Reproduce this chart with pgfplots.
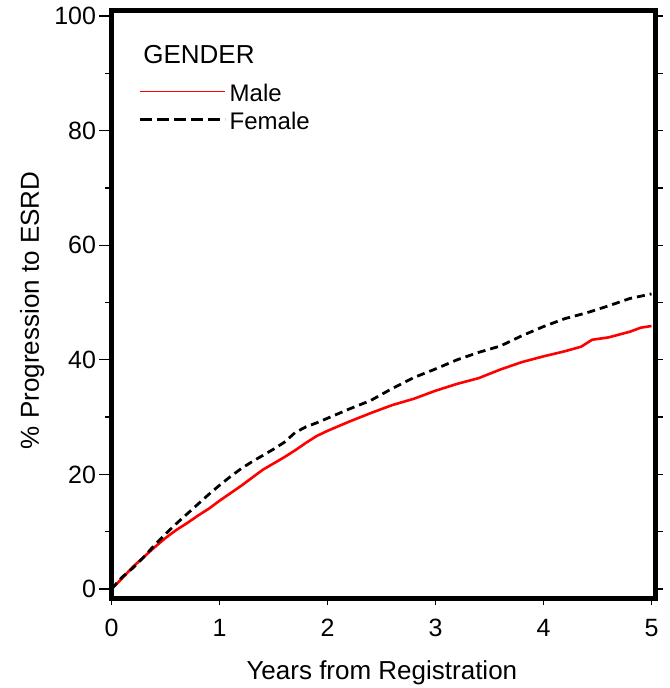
\documentclass[border=0pt]{standalone}
\usepackage{fontspec}
\setmainfont{Liberation Sans}
\usepackage{pgfplots}
\pgfplotsset{compat=1.18}
\pgfplotstableread{
x y
0 0
0.1 1.9
0.2 3.9
0.3 5.6
0.4 7.3
0.5 8.9
0.6 10.3
0.7 11.5
0.8 12.8
0.9 14.0
1.0 15.4
1.1 16.7
1.2 18.0
1.3 19.4
1.4 20.8
1.5 21.9
1.6 23.0
1.7 24.2
1.8 25.5
1.9 26.7
2.0 27.6
2.2 29.2
2.4 30.7
2.6 32.1
2.8 33.2
3.0 34.6
3.2 35.8
3.4 36.8
3.6 38.3
3.8 39.6
4.0 40.6
4.2 41.5
4.35 42.3
4.45 43.5
4.6 43.9
4.8 44.9
4.9 45.6
5.0 45.9
}\male
\pgfplotstableread{
x y
0 0
0.1 2.1
0.2 3.7
0.3 5.6
0.4 7.7
0.5 9.6
0.6 11.4
0.7 13.1
0.8 14.8
0.9 16.5
1.0 18.1
1.1 19.6
1.2 21.0
1.3 22.2
1.4 23.3
1.5 24.4
1.6 25.6
1.7 27.3
1.8 28.3
1.9 29.0
2.0 29.8
2.2 31.4
2.4 32.9
2.6 35.0
2.8 36.9
3.0 38.4
3.2 40.0
3.4 41.3
3.6 42.4
3.8 44.2
4.0 45.8
4.2 47.2
4.4 48.2
4.6 49.4
4.8 50.7
5.0 51.5
}\female
\begin{document}
\begin{tikzpicture}
\pgfplotsset{
  base/.style={scale only axis, width=544pt, height=587pt,
    xmin=0, xmax=5.037, ymin=-1.57, ymax=100.87,
    /pgf/number format/assume math mode=true,
    tick align=outside, tick style={line width=1.3pt,black},
    at={(0,0)}, anchor=south west},
}
\begin{axis}[base, name=main,
  xtick={0,1,2,3,4,5}, ytick=\empty, xtick pos=bottom,
  major tick length=7pt,
  xticklabel style={font=\fontsize{25}{30}\selectfont, yshift=-11pt},
  xlabel={Years from Registration},
  every axis x label/.style={at={(axis description cs:0.497,-0.138)},anchor=base,font=\fontsize{26}{31}\selectfont},
  legend cell align=left,
  legend style={at={(axis description cs:0.05,0.879)}, anchor=north west, draw=none, fill=none,
    inner sep=0pt, row sep=3pt, column sep=2pt, font=\fontsize{24}{29}\selectfont,
    nodes={text height=18pt, text depth=5pt, inner sep=1pt}},
  clip=false,
]
\addplot[red, line width=2.6pt, line join=round, line cap=butt,
  legend image code/.code={\draw[red,line width=1.5pt,line cap=butt] (0pt,3pt) -- (85pt,3pt);}] table {\male};
\addlegendentry{Male}
\addplot[black, line width=2.8pt, line cap=butt, dash pattern=on 8pt off 5pt,
  legend image code/.code={\draw[black,line width=2.8pt,line cap=butt,dash pattern=on 12pt off 5pt] (0pt,3pt) -- (85pt,3pt);}] table {\female};
\addlegendentry{Female}
\draw[line width=5pt, line join=miter] (rel axis cs:0,0) rectangle (rel axis cs:1,1);
\node[anchor=base west, font=\fontsize{26}{31}\selectfont] at (axis description cs:0.052,0.911) {GENDER};
\end{axis}
\begin{axis}[base, hide x axis, axis y line*=left,
  ytick={0,20,...,100}, minor ytick={10,30,...,90},
  major tick length=12pt, minor tick length=6pt,
  every y tick label/.style={font=\fontsize{25}{30}\selectfont, anchor=east},
  ylabel={\% Progression to ESRD},
  every axis y label/.style={at={(axis description cs:-0.146,0.49)},rotate=90,anchor=center,font=\fontsize{26}{31}\selectfont},
]
\end{axis}
\begin{axis}[base, hide x axis, axis y line*=right,
  ytick={0,10,...,100}, yticklabels={},
  major tick length=7pt,
]
\end{axis}
\path (main.south west) ++(-111.5pt,-90pt) rectangle ++(664pt,688pt);
\end{tikzpicture}
\end{document}
